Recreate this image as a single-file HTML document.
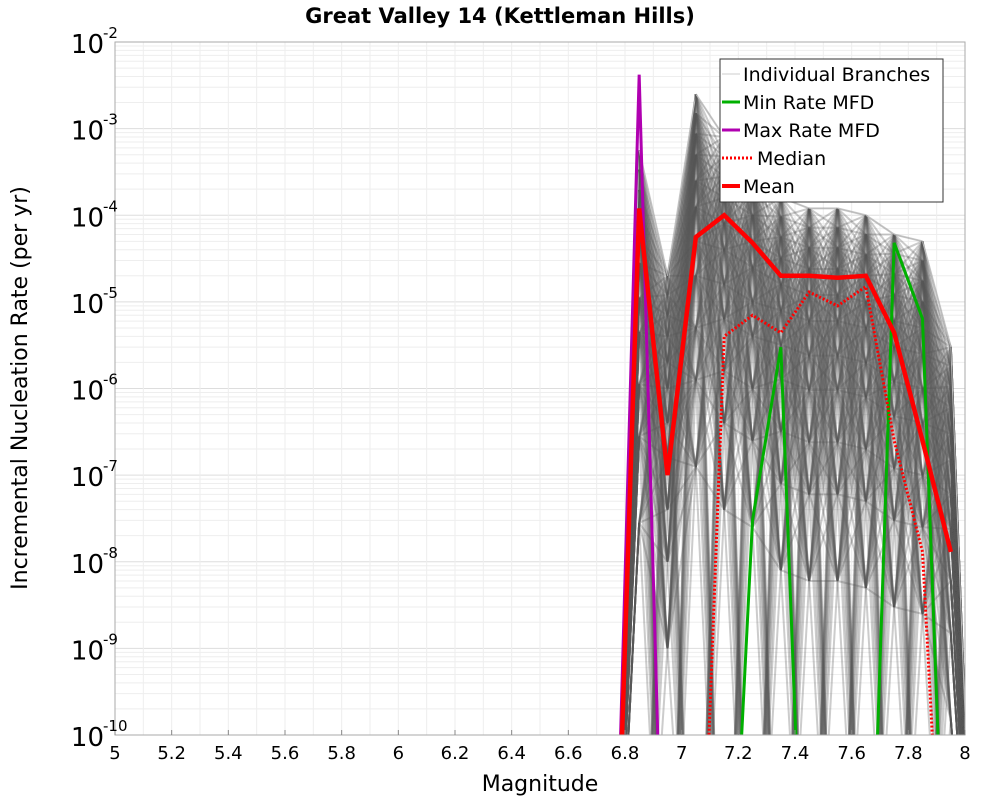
<!DOCTYPE html>
<html><head><meta charset="utf-8"><style>
body{margin:0;background:#fff;overflow:hidden;}
</style></head><body>
<svg id="chart" width="1000" height="800" xmlns="http://www.w3.org/2000/svg" font-family="DejaVu Sans, Liberation Sans, sans-serif">
<defs><clipPath id="pc"><rect x="115" y="42" width="850" height="693"/></clipPath></defs>
<text x="500" y="23" text-anchor="middle" font-size="21" font-weight="bold">Great Valley 14 (Kettleman Hills)</text>
<text x="540" y="791" text-anchor="middle" font-size="22">Magnitude</text>
<text transform="translate(27,388) rotate(-90)" text-anchor="middle" font-size="22">Incremental Nucleation Rate (per yr)</text>
<g id="grid"></g>
<g id="branches" clip-path="url(#pc)"></g>
<g id="series" clip-path="url(#pc)"></g>
<rect x="115" y="42" width="850" height="693" fill="none" stroke="#aaa"/>
<g id="ticks"></g>
<g>
<rect x="720" y="59" width="223" height="143" fill="#fff" stroke="#333"/>
<line x1="722" y1="74" x2="740" y2="74" stroke="#ccc" stroke-width="1"/>
<text x="743" y="81" font-size="19">Individual Branches</text>
<line x1="722" y1="102" x2="740" y2="102" stroke="#00b000" stroke-width="3"/>
<text x="743" y="109" font-size="19">Min Rate MFD</text>
<line x1="722" y1="130" x2="740" y2="130" stroke="#b000b0" stroke-width="3"/>
<text x="743" y="137" font-size="19">Max Rate MFD</text>
<line x1="722" y1="158" x2="752" y2="158" stroke="#f00" stroke-width="3" stroke-dasharray="2,2"/>
<text x="757" y="165" font-size="19">Median</text>
<line x1="722" y1="186" x2="740" y2="186" stroke="#f00" stroke-width="4"/>
<text x="743" y="193" font-size="19">Mean</text>
</g>
</svg>
<script>
const mags=[6.75,6.85,6.95,7.05,7.15,7.25,7.35,7.45,7.55,7.65,7.75,7.85,7.95,8.05];
const meanVals=[0,1.2e-4,1e-7,5.6e-5,1e-4,4.8e-5,2e-5,2e-5,1.9e-5,2e-5,4.4e-6,2.5e-7,1.3e-8,null];
const medianVals=[0,0,0,0,4e-6,7e-6,4.4e-6,1.3e-5,9e-6,1.5e-5,2.5e-7,1.3e-8,0,null];
const minVals=[0,0,0,0,0,3e-8,3e-6,0,0,0,4.8e-5,6.4e-6,0,null];
const maxVals=[0,4.2e-3,0,0,0,0,0,0,0,0,0,0,0,null];
const branchPeaks=[0,5.6e-4,2e-5,2.5e-3,8e-4,5e-4,1.6e-4,1.2e-4,1.2e-4,1e-4,6e-5,5e-5,3e-6,0];
const xTicks=[5,5.2,5.4,5.6,5.8,6,6.2,6.4,6.6,6.8,7,7.2,7.4,7.6,7.8,8];
const yTicks=[-10,-9,-8,-7,-6,-5,-4,-3,-2];
const NS="http://www.w3.org/2000/svg";
const X=m=>115+(m-5)/3*850;
const Y=v=>{let l=v>0?Math.log10(v):-14;return 42+(-2-l)/8*693;};
function el(t,a,p){const e=document.createElementNS(NS,t);for(const k in a)e.setAttribute(k,a[k]);p.appendChild(e);return e;}
const grid=document.getElementById('grid');
for(let d=-10;d<-2;d++)for(let k=1;k<10;k++){const y=Y(k*Math.pow(10,d));el('line',{x1:115,x2:965,y1:y,y2:y,stroke:k==1?'#ddd':'#eee','stroke-width':1},grid);}
for(let m=5;m<=8.001;m+=0.1){const x=X(m);el('line',{x1:x,x2:x,y1:42,y2:735,stroke:'#eee','stroke-width':1},grid);}
const ticks=document.getElementById('ticks');
xTicks.forEach(t=>{const x=X(t);el('line',{x1:x,x2:x,y1:730,y2:735,stroke:'#888'},ticks);
const tx=el('text',{x:x,y:759,'text-anchor':'middle','font-size':18},ticks);tx.textContent=String(t);

});
yTicks.forEach(t=>{const y=Y(Math.pow(10,t));
const tx=el('text',{x:104,y:y+11,'text-anchor':'end','font-size':26},ticks);tx.textContent='10';


const s=el('text',{x:103,y:y-4,'font-size':15},ticks);s.textContent=String(t);

});
const br=document.getElementById('branches');
const fr=[1,0.6,0.35,0.2,0.1,0.05,0.02,0.008,0.002,0.0005,0.00005,0];
for(let i=0;i<mags.length-1;i++){
 for(const a of fr)for(const b of fr){
  const va=branchPeaks[i]*a, vb=branchPeaks[i+1]*b;
  const ln=el('line',{x1:X(mags[i]),y1:Y(va),x2:X(mags[i+1]),y2:Y(vb),stroke:'#555','stroke-width':2,'stroke-opacity':0.3},br);
  
  
 }
 const pl=el('line',{x1:X(mags[i]),y1:Y(branchPeaks[i]),x2:X(mags[i+1]),y2:Y(branchPeaks[i+1]),stroke:'#bbb','stroke-width':1},br);
 
 
}
const ser=document.getElementById('series');
function line(vals,attrs,name){const pts=mags.map((m,i)=>vals[i]===null?null:X(m)+','+Y(vals[i])).filter(p=>p!==null).join(' ');
 const p=el('polyline',Object.assign({points:pts,fill:'none'},attrs),ser);
 
 }
line(minVals,{stroke:'#00b000','stroke-width':3},'min-rate-line');
line(maxVals,{stroke:'#b000b0','stroke-width':3},'max-rate-line');
line(medianVals,{stroke:'#f00','stroke-width':3,'stroke-dasharray':'2,2'},'median-line');
line(meanVals,{stroke:'#f00','stroke-width':4.5},'mean-line');
</script>
</body></html>
